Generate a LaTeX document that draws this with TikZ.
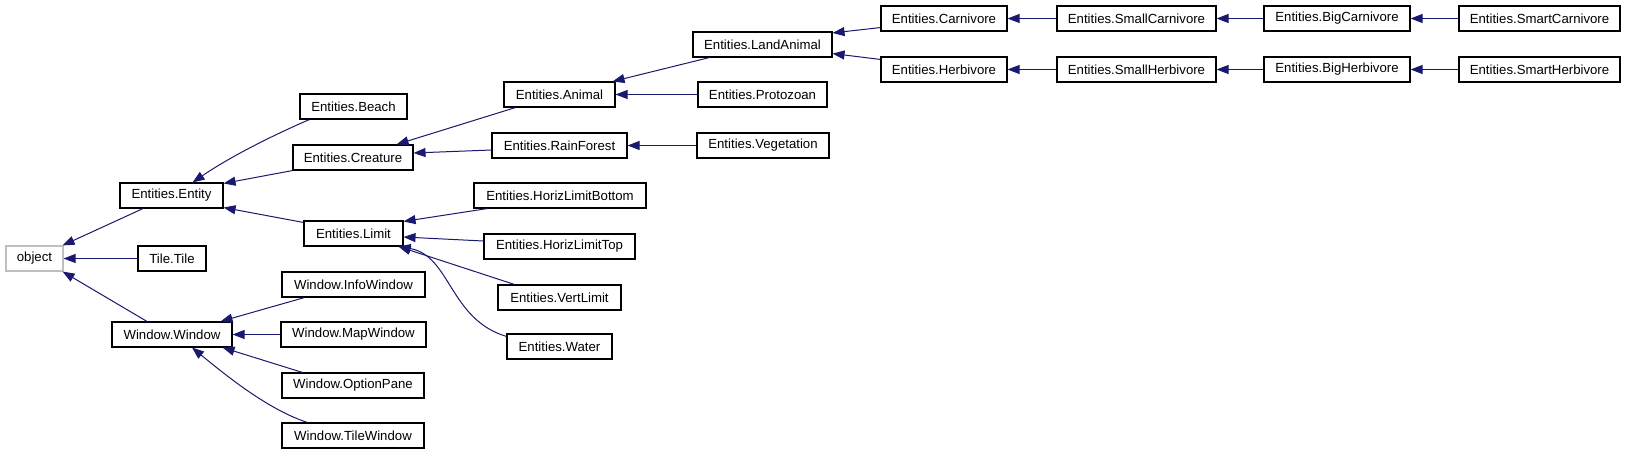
\documentclass[tikz,border=0pt]{standalone}
\usepackage{fontspec}
\setmainfont{Liberation Sans}
\usetikzlibrary{arrows.meta}
\definecolor{edgeblue}{HTML}{191970}
\definecolor{objgray}{HTML}{BFBFBF}
\begin{document}
\begin{tikzpicture}[x=1pt,y=-1pt,
  cls/.style={draw=black, line width=1.1pt, fill=white, rectangle, minimum height=25pt, inner sep=0pt, font=\fontsize{13.2}{15}\selectfont},
  inh/.style={draw=edgeblue, line width=1pt, -{Triangle[length=12pt,width=9pt]}}]
\useasboundingbox[fill=white] (0,0) rectangle (1627,455);
% column 0
\node[cls, draw=objgray, minimum width=57pt] (object) at (34.5,258.5) {object};
% column 1
\node[cls, minimum width=103pt] (Entity) at (171.5,195.5) {Entities.Entity};
\node[cls, minimum width=68pt] (Tile) at (172,258.5) {Tile.Tile};
\node[cls, minimum width=120pt] (Window) at (172,334.5) {Window.Window};
% column 2
\node[cls, minimum width=107pt] (Beach) at (353.5,106.5) {Entities.Beach};
\node[cls, minimum width=120pt] (Creature) at (353,157.5) {Entities.Creature};
\node[cls, minimum width=99pt] (Limit) at (353.5,233.5) {Entities.Limit};
\node[cls, minimum width=143pt] (InfoWindow) at (353.5,284.5) {Window.InfoWindow};
\node[cls, minimum width=145pt] (MapWindow) at (353.5,334.5) {Window.MapWindow};
\node[cls, minimum width=142pt] (OptionPane) at (353,385.5) {Window.OptionPane};
\node[cls, minimum width=142pt] (TileWindow) at (353,435.5) {Window.TileWindow};
% column 3
\node[cls, minimum width=111pt] (Animal) at (559.5,94.5) {Entities.Animal};
\node[cls, minimum width=135pt] (RainForest) at (559.5,145.5) {Entities.RainForest};
\node[cls, minimum width=172pt] (HLB) at (560,195.5) {Entities.HorizLimitBottom};
\node[cls, minimum width=151pt] (HLT) at (559.5,246.5) {Entities.HorizLimitTop};
\node[cls, minimum width=123pt] (VertLimit) at (559.5,297.5) {Entities.VertLimit};
\node[cls, minimum width=105pt] (Water) at (559.5,346.5) {Entities.Water};
% column 4
\node[cls, minimum width=139pt] (LandAnimal) at (762.5,44.5) {Entities.LandAnimal};
\node[cls, minimum width=129pt] (Protozoan) at (762.5,94.5) {Entities.Protozoan};
\node[cls, minimum width=132pt] (Vegetation) at (763,145.5) {Entities.Vegetation};
% column 5..8
\node[cls, minimum width=126pt] (Carnivore) at (944,18.5) {Entities.Carnivore};
\node[cls, minimum width=126pt] (Herbivore) at (944,69.5) {Entities.Herbivore};
\node[cls, minimum width=159pt] (SmallCarnivore) at (1136.5,18.5) {Entities.SmallCarnivore};
\node[cls, minimum width=159pt] (SmallHerbivore) at (1136.5,69.5) {Entities.SmallHerbivore};
\node[cls, minimum width=146pt] (BigCarnivore) at (1337,18.5) {Entities.BigCarnivore};
\node[cls, minimum width=146pt] (BigHerbivore) at (1337,69.5) {Entities.BigHerbivore};
\node[cls, minimum width=161pt] (SmartCarnivore) at (1539.5,18.5) {Entities.SmartCarnivore};
\node[cls, minimum width=161pt] (SmartHerbivore) at (1539.5,69.5) {Entities.SmartHerbivore};
% edges
\draw[inh] ([xshift=-28.5pt]Entity.south) -- ([xshift=-1pt]object.north east);
\draw[inh] (Tile.west) -- (object.east);
\draw[inh] ([xshift=-25pt]Window.north) -- ([xshift=-1pt]object.south east);
\draw[inh] ([xshift=10pt]Beach.south west) .. controls +(-35,15) and +(38,-26) .. ([xshift=-31pt]Entity.north east);
\draw[inh] (Creature.south west) -- ([yshift=-1pt]Entity.north east);
\draw[inh] ([yshift=-2pt]Limit.north west) -- ([yshift=1pt]Entity.south east);
\draw[inh] ([xshift=23pt]InfoWindow.south west) -- ([xshift=-12pt]Window.north east);
\draw[inh] (MapWindow.west) -- (Window.east);
\draw[inh] ([xshift=21pt]OptionPane.north west) -- ([xshift=-10pt]Window.south east);
\draw[inh] ([xshift=26pt]TileWindow.north west) .. controls +(-40,-13) and +(33,27) .. ([xshift=20pt]Window.south);
\draw[inh] ([xshift=12pt]Animal.south west) -- ([xshift=-17pt]Creature.north east);
\draw[inh] ([yshift=-4.5pt]RainForest.west) -- ([yshift=4.5pt]Creature.east);
\draw[inh] ([xshift=17pt]LandAnimal.south west) -- ([xshift=-3pt]Animal.north east);
\draw[inh] (Protozoan.west) -- (Animal.east);
\draw[inh] (Vegetation.west) -- (RainForest.east);
\draw[inh] ([xshift=14pt]HLB.south west) -- ([yshift=-1pt]Limit.north east);
\draw[inh] ([yshift=5.5pt]HLT.west) -- ([yshift=-3.5pt]Limit.east);
\draw[inh] ([xshift=17pt]VertLimit.north west) -- ([xshift=-5pt]Limit.south east);
\draw[inh] ([yshift=-3pt]Water.north west) .. controls +(-57,-17) and +(52,9) .. ([xshift=-5pt]Limit.south east);
\draw[inh] ([yshift=4pt]Carnivore.south west) -- ([yshift=-1.5pt]LandAnimal.north east);
\draw[inh] ([yshift=-3pt]Herbivore.north west) -- ([yshift=4pt]LandAnimal.south east);
\draw[inh] (SmallCarnivore.west) -- (Carnivore.east);
\draw[inh] (SmallHerbivore.west) -- (Herbivore.east);
\draw[inh] (BigCarnivore.west) -- (SmallCarnivore.east);
\draw[inh] (BigHerbivore.west) -- (SmallHerbivore.east);
\draw[inh] (SmartCarnivore.west) -- (BigCarnivore.east);
\draw[inh] (SmartHerbivore.west) -- (BigHerbivore.east);
\end{tikzpicture}
\end{document}
